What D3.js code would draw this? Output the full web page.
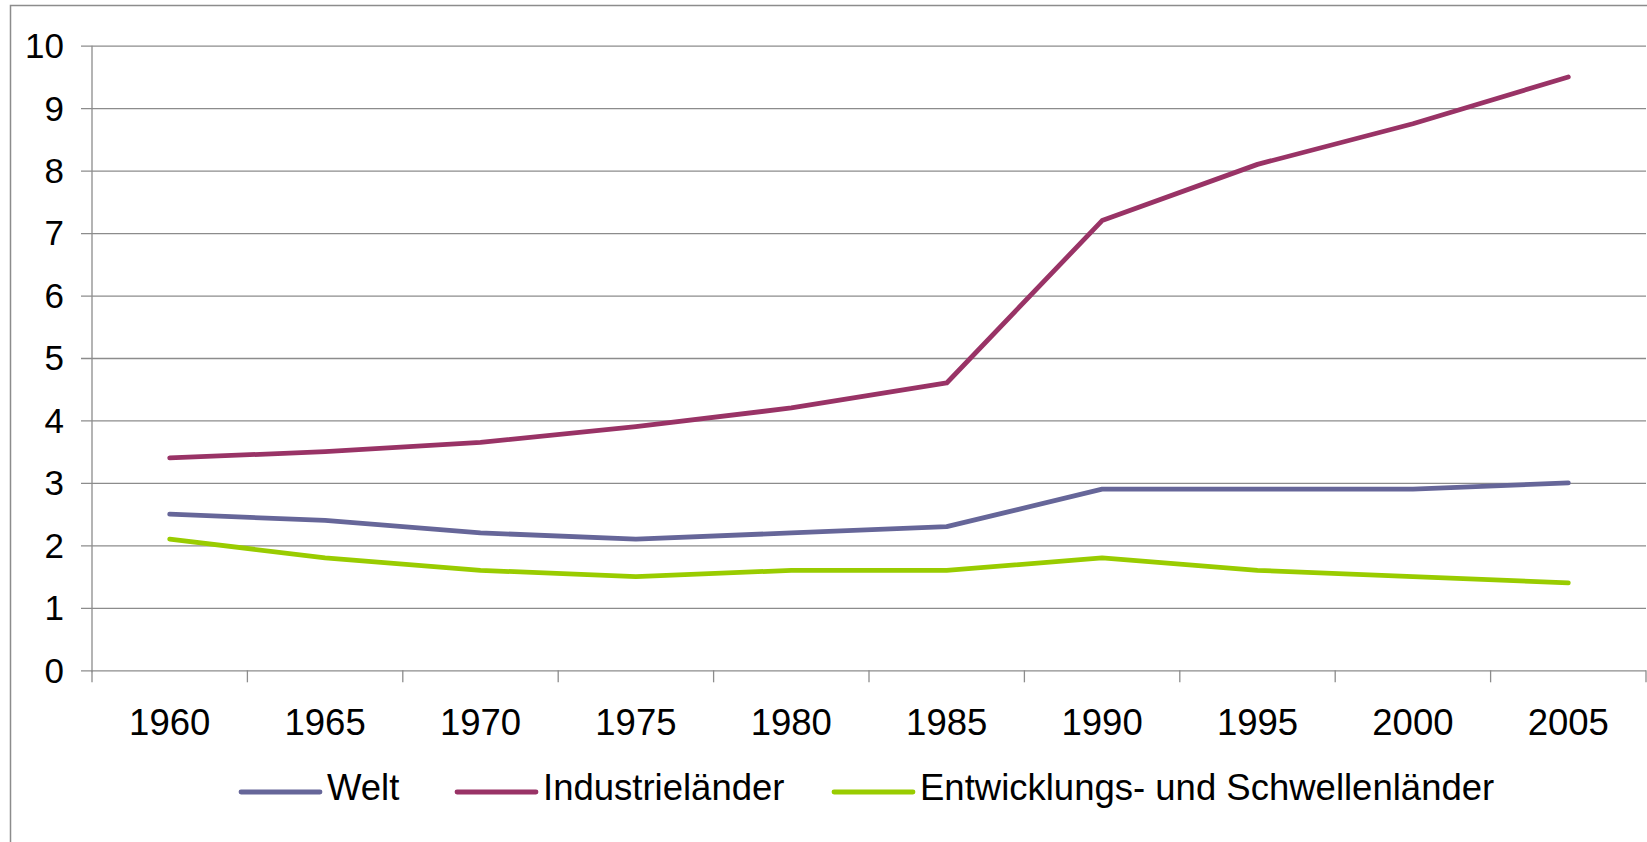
<!DOCTYPE html>
<html>
<head>
<meta charset="utf-8">
<script src="https://cdn.jsdelivr.net/npm/d3@7"></script>
<style>
  body { margin: 0; background: #fff; }
  svg text { font-family: 'Liberation Sans', Arial, sans-serif; fill: #000; }
</style>
</head>
<body>
<div id="chart"></div>
<script>
let years = ['1960', '1965', '1970', '1975', '1980', '1985', '1990', '1995', '2000', '2005']
let welt = [2.5, 2.4, 2.2, 2.1, 2.2, 2.3, 2.9, 2.9, 2.9, 3.0]
let industrie = [3.4, 3.5, 3.65, 3.9, 4.2, 4.6, 7.2, 8.1, 8.75, 9.5]
let entwicklung = [2.1, 1.8, 1.6, 1.5, 1.6, 1.6, 1.8, 1.6, 1.5, 1.4]
let seriesNames = ['Welt', 'Industrieländer', 'Entwicklungs- und Schwellenländer']
let yTicks = [0, 1, 2, 3, 4, 5, 6, 7, 8, 9, 10]

let series = [
  { name: seriesNames[0], values: welt, color: '#666699' },
  { name: seriesNames[1], values: industrie, color: '#993366' },
  { name: seriesNames[2], values: entwicklung, color: '#99cc00' }
]

let width = 1647
let height = 842
let plot = { left: 92, right: 1646, top: 45.7, bottom: 670.3 }

let svg = d3
  .select('#chart')
  .append('svg')
  .attr('width', width)
  .attr('height', height)

// outer chart border (clipped at right/bottom in the original)
svg
  .append('rect')
  .attr('x', 10.5)
  .attr('y', 5.5)
  .attr('width', width + 20)
  .attr('height', height + 20)
  .attr('fill', 'none')
  .attr('stroke', '#8c8c8c')
  .attr('stroke-width', 1.5)

let xPositionScale = d3.scaleBand().domain(years).range([plot.left, plot.right])
let yPositionScale = d3.scaleLinear().domain([0, 10]).range([plot.bottom, plot.top])

// gridlines + y axis
let yAxis = d3
  .axisLeft(yPositionScale)
  .tickValues(yTicks)
  .tickSize(plot.right - plot.left + 11)
  .tickFormat(d3.format('d'))

svg
  .append('g')
  .attr('class', 'y-axis')
  .attr('transform', 'translate(' + plot.right + ',0)')
  .call(yAxis)
  .call(g => g.select('.domain').remove())
  .call(g => g.selectAll('.tick line').attr('stroke', '#8c8c8c').attr('stroke-width', 1.3))
  .call(g => g.selectAll('.tick text')
    .attr('x', -(plot.right - plot.left) - 28)
    .attr('font-size', 35)
    .attr('dy', '0.34em'))

svg
  .append('line')
  .attr('x1', plot.left)
  .attr('x2', plot.left)
  .attr('y1', plot.top)
  .attr('y2', plot.bottom + 2)
  .attr('stroke', '#8c8c8c')
  .attr('stroke-width', 1.3)

// x axis: ticks between categories
let boundaries = years.map(d => xPositionScale(d)).concat([plot.right])
svg
  .append('g')
  .attr('class', 'x-axis')
  .selectAll('line')
  .data(boundaries)
  .enter()
  .append('line')
  .attr('x1', d => d)
  .attr('x2', d => d)
  .attr('y1', plot.bottom)
  .attr('y2', plot.bottom + 12)
  .attr('stroke', '#8c8c8c')
  .attr('stroke-width', 1.3)

svg
  .append('g')
  .selectAll('text')
  .data(years)
  .enter()
  .append('text')
  .attr('x', d => xPositionScale(d) + xPositionScale.bandwidth() / 2)
  .attr('y', 735)
  .attr('text-anchor', 'middle')
  .attr('font-size', 36.5)
  .text(d => d)

let line = d3
  .line()
  .x((d, i) => xPositionScale(years[i]) + xPositionScale.bandwidth() / 2)
  .y(d => yPositionScale(d))

svg
  .selectAll('.c-line')
  .data(series)
  .enter()
  .append('path')
  .attr('class', 'c-line')
  .attr('d', d => line(d.values))
  .attr('fill', 'none')
  .attr('stroke', d => d.color)
  .attr('stroke-width', 4.8)
  .attr('stroke-linecap', 'round')
  .attr('stroke-linejoin', 'round')

// legend
let legendX = [241, 457, 834]
let legend = svg
  .selectAll('.legend')
  .data(series)
  .enter()
  .append('g')
  .attr('class', 'legend')
  .attr('transform', (d, i) => 'translate(' + legendX[i] + ',792)')

legend
  .append('line')
  .attr('x1', 0)
  .attr('x2', 79)
  .attr('stroke', d => d.color)
  .attr('stroke-width', 4.8)
  .attr('stroke-linecap', 'round')

legend
  .append('text')
  .attr('x', 86)
  .attr('y', 8)
  .attr('font-size', 36.5)
  .text(d => d.name)
</script>
</body>
</html>
